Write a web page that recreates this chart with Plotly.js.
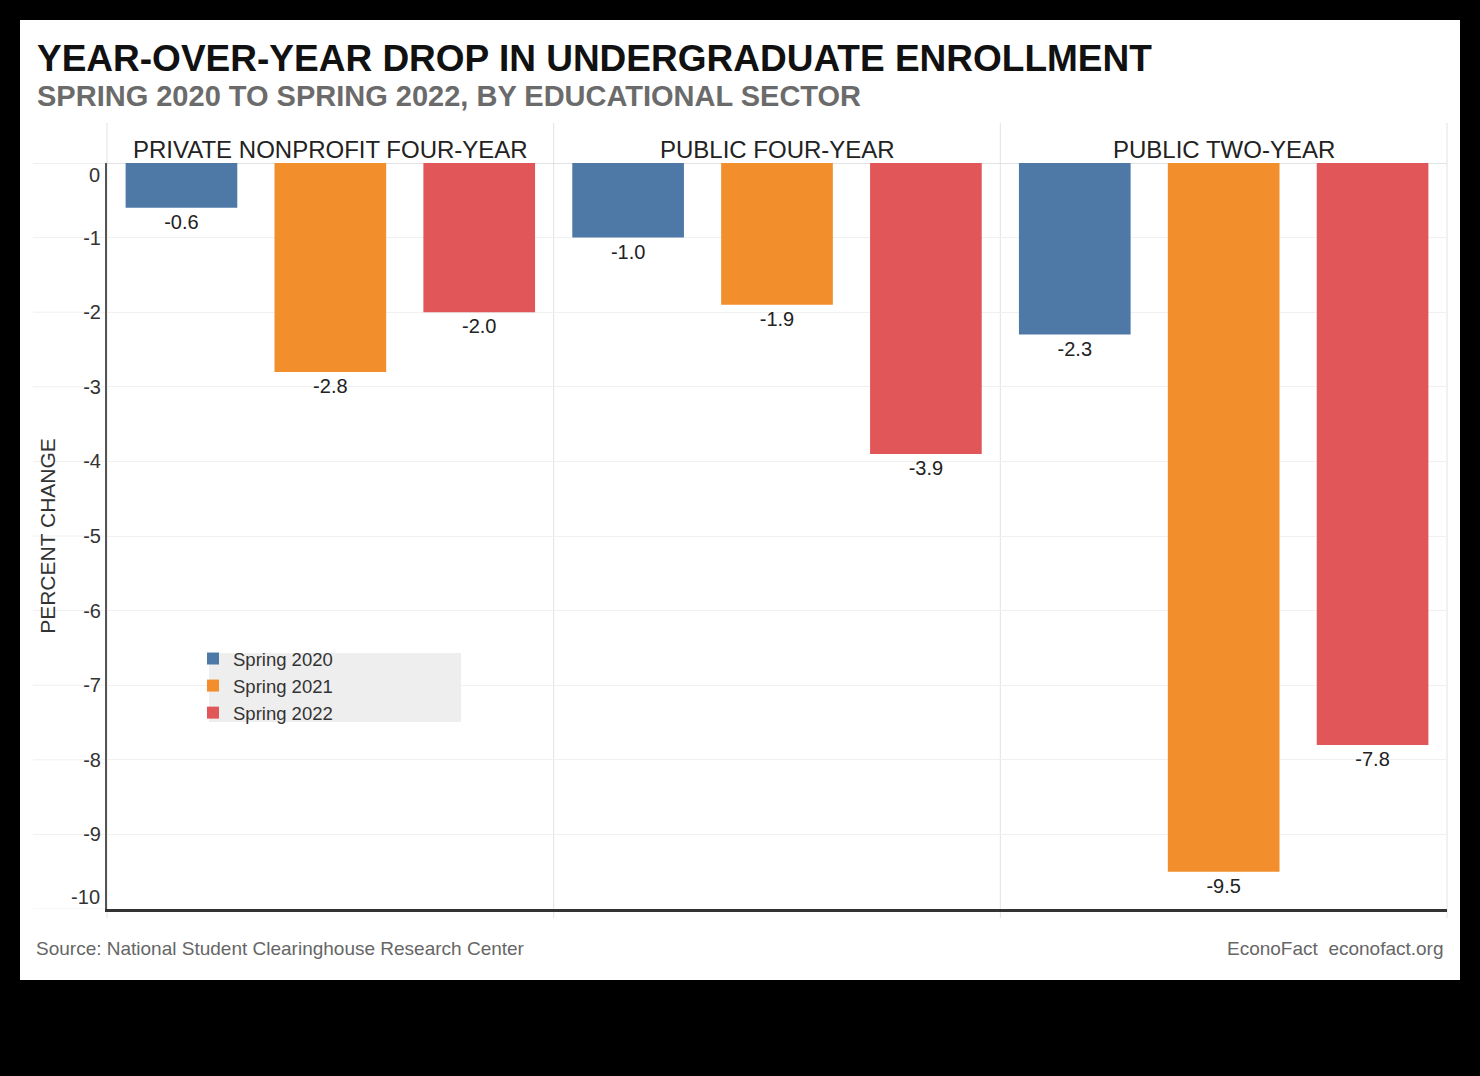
<!DOCTYPE html>
<html>
<head>
<meta charset="utf-8">
<script src="https://cdn.plot.ly/plotly-3.0.1.min.js"></script>
<style>
  html, body { margin: 0; padding: 0; background: #000; width: 1480px; height: 1076px; overflow: hidden; }
  #chart { position: absolute; left: 20px; top: 20px; width: 1440px; height: 960px; }
</style>
</head>
<body>
<div id="chart"></div>
<script>
// ---- data ----
const sectors = ['PRIVATE NONPROFIT FOUR-YEAR', 'PUBLIC FOUR-YEAR', 'PUBLIC TWO-YEAR'];
const years = ['Spring 2020', 'Spring 2021', 'Spring 2022'];
const spring2020 = [-0.6, -1.0, -2.3];
const spring2021 = [-2.8, -1.9, -9.5];
const spring2022 = [-2.0, -3.9, -7.8];
const yTickVals = [0, -1, -2, -3, -4, -5, -6, -7, -8, -9, -10];
const yEndTicks = [0, -10];
const titleText = 'YEAR-OVER-YEAR DROP IN UNDERGRADUATE ENROLLMENT';
const subtitleText = 'SPRING 2020 TO SPRING 2022, BY EDUCATIONAL SECTOR';
const sourceText = 'Source: National Student Clearinghouse Research Center';
const creditText = 'EconoFact\u00a0\u00a0econofact.org';
const yTitle = 'PERCENT CHANGE';

const seriesValues = [spring2020, spring2021, spring2022];
const colors = ['#4e79a7', '#f28e2b', '#e15759'];
const FONT = 'Liberation Sans, Arial, Helvetica, sans-serif';

const traces = [];
seriesValues.forEach((vals, si) => {
  sectors.forEach((sec, pi) => {
    traces.push({
      type: 'bar',
      x: [years[si]],
      y: [vals[pi]],
      name: years[si],
      legendgroup: years[si],
      showlegend: pi === 0,
      xaxis: pi === 0 ? 'x' : 'x' + (pi + 1),
      yaxis: 'y',
      marker: { color: colors[si], line: { width: 0 } },
      texttemplate: '%{y:.1f}',
      textposition: 'outside',
      cliponaxis: false,
      textfont: { family: FONT, size: 20, color: '#222' },
      hoverinfo: 'skip'
    });
  });
});
// empty trace to host the overlay axis carrying the end labels
traces.push({ type: 'scatter', x: [], y: [], xaxis: 'x', yaxis: 'y2', showlegend: false, hoverinfo: 'skip' });

// plot-area geometry helpers (div pixels -> paper)
const L = 87, T = 143, W = 1340, H = 746;
const px = v => (v - L) / W;
const py = v => (T + H - v) / H;

const xAxisBase = {
  type: 'category',
  categoryorder: 'array',
  categoryarray: years,
  range: [-0.5, 2.5],
  showgrid: false,
  zeroline: false,
  showticklabels: false,
  ticks: '',
  showline: true,
  linecolor: '#333',
  linewidth: 2.5,
  anchor: 'y',
  fixedrange: true
};

const shapes = [];
// gridline extensions to the left of the y axis line
yTickVals.forEach(v => {
  shapes.push({
    type: 'line', layer: 'below', xref: 'paper', yref: 'y',
    x0: px(13), x1: 0, y0: v, y1: v,
    line: { color: v === 0 ? '#e2e2e2' : '#f0f0f0', width: 1 }
  });
});
// panel dividers (including left and right frame lines)
[0, 1 / 3, 2 / 3, 1].forEach(xv => {
  shapes.push({
    type: 'line', layer: 'below', xref: 'paper', yref: 'paper',
    x0: xv, x1: xv, y0: py(898), y1: py(103),
    line: { color: '#e2e2e2', width: 1 }
  });
});
// legend background box
shapes.push({
  type: 'rect', layer: 'above', xref: 'paper', yref: 'paper',
  x0: px(189), x1: px(441), y0: py(702), y1: py(633),
  fillcolor: '#eeeeee', line: { width: 0 }
});

const annotations = [
  { text: titleText, xref: 'paper', yref: 'paper', x: px(15), y: py(38.5), xanchor: 'left', yanchor: 'middle',
    showarrow: false, font: { family: FONT, size: 37, color: '#111', weight: 'bold' } },
  { text: subtitleText, xref: 'paper', yref: 'paper', x: px(15), y: py(76), xanchor: 'left', yanchor: 'middle',
    showarrow: false, font: { family: FONT, size: 29, color: '#6b6b6b', weight: 'bold' } },
  { text: sourceText, xref: 'paper', yref: 'paper', x: px(14), y: py(928), xanchor: 'left', yanchor: 'middle',
    showarrow: false, font: { family: FONT, size: 19, color: '#666' } },
  { text: creditText, xref: 'paper', yref: 'paper', x: px(1426), y: py(928), xanchor: 'right', yanchor: 'middle',
    showarrow: false, font: { family: FONT, size: 19, color: '#666' } }
];
sectors.forEach((sec, i) => {
  annotations.push({
    text: sec, xref: 'paper', yref: 'paper', x: (2 * i + 1) / 6, y: py(129), xanchor: 'center', yanchor: 'middle',
    showarrow: false, font: { family: FONT, size: 24, color: '#222' }
  });
});

const layout = {
  width: 1440,
  height: 960,
  paper_bgcolor: '#ffffff',
  plot_bgcolor: 'rgba(0,0,0,0)',
  margin: { l: L, r: 1440 - L - W, t: T, b: 960 - T - H, pad: 0 },
  font: { family: FONT, color: '#333' },
  barmode: 'overlay',
  bargap: 0.25,
  showlegend: true,
  legend: {
    x: px(173), xanchor: 'left',
    y: py(666), yanchor: 'middle',
    bgcolor: 'rgba(0,0,0,0)',
    borderwidth: 0,
    font: { family: FONT, size: 18.5, color: '#333' },
    traceorder: 'normal'
  },
  xaxis: Object.assign({}, xAxisBase, { domain: [0, 1 / 3] }),
  xaxis2: Object.assign({}, xAxisBase, { domain: [1 / 3, 2 / 3] }),
  xaxis3: Object.assign({}, xAxisBase, { domain: [2 / 3, 1] }),
  yaxis: {
    range: [-10, 0],
    tickmode: 'array',
    tickvals: yTickVals,
    ticktext: yTickVals.map(v => (yEndTicks.includes(v) ? '' : String(v))),
    ticks: '',
    tickfont: { family: FONT, size: 20, color: '#333' },
    showgrid: true,
    gridcolor: '#f0f0f0',
    gridwidth: 1,
    zeroline: true,
    zerolinecolor: '#e2e2e2',
    zerolinewidth: 1,
    showline: true,
    linecolor: '#555',
    linewidth: 2,
    anchor: 'x',
    title: { text: yTitle, font: { family: FONT, size: 21, color: '#333' }, standoff: 22 },
    fixedrange: true
  },
  yaxis2: {
    overlaying: 'y',
    anchor: 'x',
    side: 'left',
    range: [-10 - 12 / 72.2, 12 / 72.2],
    tickmode: 'array',
    tickvals: yEndTicks,
    ticktext: yEndTicks.map(String),
    ticks: '',
    ticklabelstandoff: 6,
    tickfont: { family: FONT, size: 20, color: '#333' },
    showgrid: false,
    zeroline: false,
    showline: false,
    fixedrange: true
  },
  shapes: shapes,
  annotations: annotations
};

Plotly.newPlot('chart', traces, layout, { displayModeBar: false, staticPlot: true });
</script>
</body>
</html>
